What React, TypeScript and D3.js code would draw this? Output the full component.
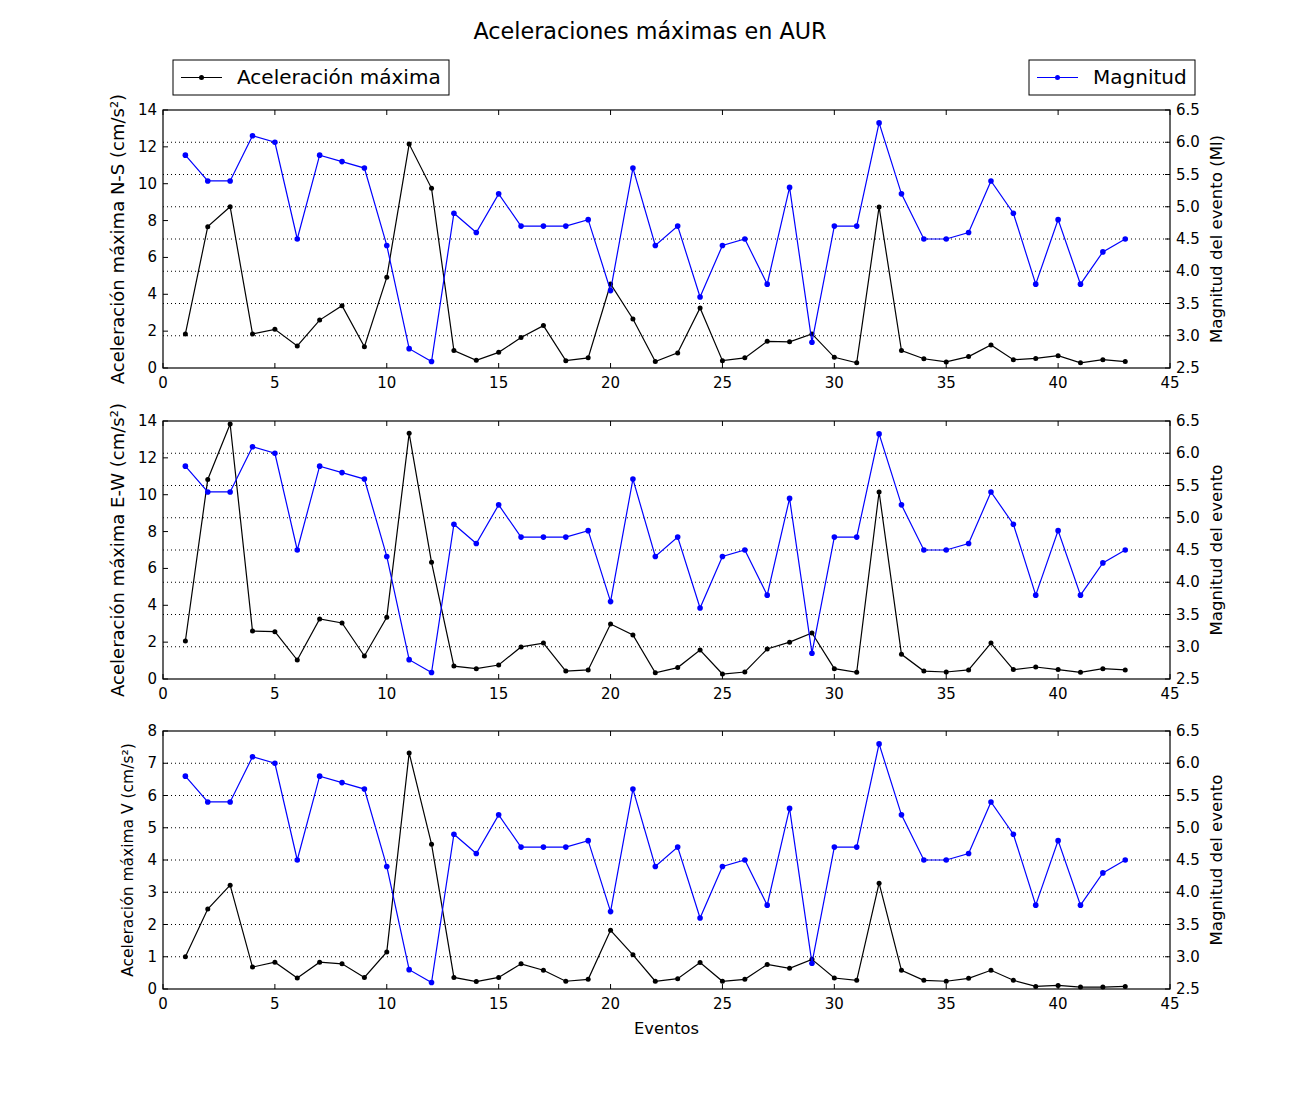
import React, { useRef, useEffect } from 'react';
import * as d3 from 'd3';

const events = d3.range(1, 44);

const magnitud = [
  5.8, 5.4, 5.4, 6.1, 6.0, 4.5, 5.8, 5.7, 5.6, 4.4,
  2.8, 2.6, 4.9, 4.6, 5.2, 4.7, 4.7, 4.7, 4.8, 3.7,
  5.6, 4.4, 4.7, 3.6, 4.4, 4.5, 3.8, 5.3, 2.9, 4.7,
  4.7, 6.3, 5.2, 4.5, 4.5, 4.6, 5.4, 4.9, 3.8, 4.8,
  3.8, 4.3, 4.5,
];

const accNS = [
  1.85, 7.67, 8.75, 1.85, 2.1, 1.2, 2.6, 3.38, 1.15, 4.92,
  12.15, 9.75, 0.95, 0.42, 0.85, 1.65, 2.3, 0.4, 0.55, 4.56,
  2.66, 0.35, 0.82, 3.26, 0.4, 0.55, 1.45, 1.42, 1.85, 0.58,
  0.28, 8.74, 0.95, 0.5, 0.33, 0.62, 1.25, 0.45, 0.52, 0.67,
  0.28, 0.45, 0.35,
];

const accEW = [
  2.06, 10.83, 13.84, 2.6, 2.57, 1.03, 3.26, 3.04, 1.25, 3.35,
  13.33, 6.33, 0.7, 0.56, 0.76, 1.74, 1.95, 0.43, 0.49, 2.98,
  2.39, 0.34, 0.62, 1.57, 0.27, 0.38, 1.63, 2.0, 2.5, 0.56,
  0.36, 10.15, 1.34, 0.43, 0.38, 0.49, 1.95, 0.51, 0.65, 0.51,
  0.36, 0.56, 0.49,
];

const accV = [
  1.0, 2.48, 3.22, 0.68, 0.83, 0.34, 0.83, 0.78, 0.36, 1.15,
  7.32, 4.49, 0.36, 0.23, 0.36, 0.78, 0.58, 0.24, 0.3, 1.82,
  1.06, 0.24, 0.32, 0.82, 0.24, 0.3, 0.76, 0.64, 0.92, 0.34,
  0.27, 3.28, 0.58, 0.27, 0.24, 0.33, 0.58, 0.27, 0.08, 0.11,
  0.06, 0.06, 0.08,
];

const xTicks = [0, 5, 10, 15, 20, 25, 30, 35, 40, 45];
const magTicks = [2.5, 3.0, 3.5, 4.0, 4.5, 5.0, 5.5, 6.0, 6.5];

const panels = [
  { values: accNS, max: 14, ticks: [0, 2, 4, 6, 8, 10, 12, 14], label: 'Aceleración máxima N-S (cm/s²)', right: 'Magnitud del evento (Ml)', labelSize: 18, labelX: 124 },
  { values: accEW, max: 14, ticks: [0, 2, 4, 6, 8, 10, 12, 14], label: 'Aceleración máxima E-W (cm/s²)', right: 'Magnitud del evento', labelSize: 18, labelX: 124 },
  { values: accV, max: 8, ticks: [0, 1, 2, 3, 4, 5, 6, 7, 8], label: 'Aceleración máxima V (cm/s²)', right: 'Magnitud del evento', labelSize: 15.5, labelX: 133 },
];

const FONT = '"DejaVu Sans", sans-serif';

const App: React.FC = () => {
  const svgRef = useRef<SVGSVGElement | null>(null);

  useEffect(() => {
    const svg = d3.select(svgRef.current);
    svg.selectAll('*').remove();

    const left = 163;
    const right = 1170;
    const tops = [110, 421, 731];
    const h = 258;
    const tickLen = 5;

    svg.append('rect').attr('width', 1300).attr('height', 1100).attr('fill', '#fff');

    const x = d3.scaleLinear().domain([0, 45]).range([left, right]);

    // title
    svg.append('text')
      .attr('x', 650).attr('y', 39)
      .attr('text-anchor', 'middle')
      .attr('font-family', FONT).attr('font-size', 22.3)
      .text('Aceleraciones máximas en AUR');

    panels.forEach((p, i) => {
      const top = tops[i];
      const bottom = top + h;
      const y = d3.scaleLinear().domain([0, p.max]).range([bottom, top]);
      const y2 = d3.scaleLinear().domain([2.5, 6.5]).range([bottom, top]);
      const g = svg.append('g');

      // dotted grid on the magnitude ticks
      g.selectAll('.grid')
        .data(magTicks.slice(1, -1))
        .enter().append('line')
        .attr('x1', left).attr('x2', right)
        .attr('y1', d => y2(d)).attr('y2', d => y2(d))
        .attr('stroke', '#000').attr('stroke-width', 1)
        .attr('stroke-dasharray', '1,3');

      // acceleration line
      const line = d3.line<number>()
        .x((_, j) => x(events[j]))
        .y(d => y(d));
      g.append('path')
        .datum(p.values)
        .attr('d', line)
        .attr('fill', 'none').attr('stroke', '#000').attr('stroke-width', 1.2);
      g.selectAll('.dotA')
        .data(p.values)
        .enter().append('circle')
        .attr('cx', (_, j) => x(events[j]))
        .attr('cy', d => y(d))
        .attr('r', 2.5).attr('fill', '#000');

      // magnitude line
      const line2 = d3.line<number>()
        .x((_, j) => x(events[j]))
        .y(d => y2(d));
      g.append('path')
        .datum(magnitud)
        .attr('d', line2)
        .attr('fill', 'none').attr('stroke', '#0000ff').attr('stroke-width', 1.2);
      g.selectAll('.dotM')
        .data(magnitud)
        .enter().append('circle')
        .attr('cx', (_, j) => x(events[j]))
        .attr('cy', d => y2(d))
        .attr('r', 2.8).attr('fill', '#0000ff');

      // frame
      g.append('rect')
        .attr('x', left).attr('y', top)
        .attr('width', right - left).attr('height', h)
        .attr('fill', 'none').attr('stroke', '#000').attr('stroke-width', 1.2);

      // x ticks (top and bottom, inside)
      xTicks.forEach(t => {
        g.append('line')
          .attr('x1', x(t)).attr('x2', x(t))
          .attr('y1', bottom).attr('y2', bottom - tickLen)
          .attr('stroke', '#000');
        g.append('line')
          .attr('x1', x(t)).attr('x2', x(t))
          .attr('y1', top).attr('y2', top + tickLen)
          .attr('stroke', '#000');
        g.append('text')
          .attr('x', x(t)).attr('y', bottom + 20)
          .attr('text-anchor', 'middle')
          .attr('font-family', FONT).attr('font-size', 15)
          .text(String(t));
      });

      // left ticks
      p.ticks.forEach(t => {
        g.append('line')
          .attr('x1', left).attr('x2', left + tickLen)
          .attr('y1', y(t)).attr('y2', y(t))
          .attr('stroke', '#000');
        g.append('text')
          .attr('x', left - 6).attr('y', y(t) + 5)
          .attr('text-anchor', 'end')
          .attr('font-family', FONT).attr('font-size', 15)
          .text(String(t));
      });

      // right ticks
      magTicks.forEach(t => {
        g.append('line')
          .attr('x1', right).attr('x2', right - tickLen)
          .attr('y1', y2(t)).attr('y2', y2(t))
          .attr('stroke', '#000');
        g.append('text')
          .attr('x', right + 6).attr('y', y2(t) + 5)
          .attr('text-anchor', 'start')
          .attr('font-family', FONT).attr('font-size', 15)
          .text(t.toFixed(1));
      });

      // axis labels
      const midY = top + h / 2;
      g.append('text')
        .attr('transform', `translate(${p.labelX},${midY}) rotate(-90)`)
        .attr('text-anchor', 'middle')
        .attr('font-family', FONT).attr('font-size', p.labelSize)
        .text(p.label);
      g.append('text')
        .attr('transform', `translate(1222,${midY}) rotate(-90)`)
        .attr('text-anchor', 'middle')
        .attr('font-family', FONT).attr('font-size', 16.6)
        .text(p.right);
    });

    svg.append('text')
      .attr('x', (left + right) / 2).attr('y', 1034)
      .attr('text-anchor', 'middle')
      .attr('font-family', FONT).attr('font-size', 16.3)
      .text('Eventos');

    // legends
    const legends = [
      { x0: 173, x1: 449, color: '#000', text: 'Aceleración máxima' },
      { x0: 1029, x1: 1195, color: '#0000ff', text: 'Magnitud' },
    ];
    legends.forEach(l => {
      const lg = svg.append('g');
      lg.append('rect')
        .attr('x', l.x0).attr('y', 60)
        .attr('width', l.x1 - l.x0).attr('height', 35)
        .attr('fill', '#fff').attr('stroke', '#000').attr('stroke-width', 1);
      lg.append('line')
        .attr('x1', l.x0 + 8).attr('x2', l.x0 + 49)
        .attr('y1', 77.5).attr('y2', 77.5)
        .attr('stroke', l.color).attr('stroke-width', 1.2);
      lg.append('circle')
        .attr('cx', l.x0 + 28.5).attr('cy', 77.5)
        .attr('r', 2.5).attr('fill', l.color);
      lg.append('text')
        .attr('x', l.x0 + 64).attr('y', 84)
        .attr('font-family', FONT).attr('font-size', 20)
        .text(l.text);
    });
  }, []);

  return (
    <svg
      ref={svgRef}
      width={1300}
      height={1100}
      style={{ position: 'absolute', left: 0, top: 0 }}
    />
  );
};

export default App;
